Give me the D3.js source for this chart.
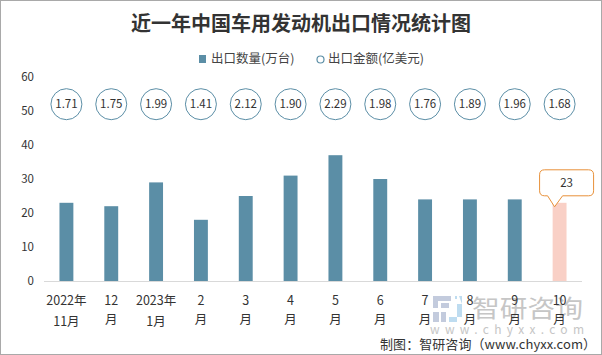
<!DOCTYPE html>
<html><head><meta charset="utf-8">
<script src="https://cdn.jsdelivr.net/npm/d3@7"></script>
<style>html,body{margin:0;padding:0;background:#fff}svg{display:block}text{font-family:"Noto Sans CJK SC","Noto Sans",sans-serif}</style>
</head><body><svg id="c" width="602" height="355"></svg>
<script>
const title = "近一年中国车用发动机出口情况统计图";
const categories = ["2022年|11月","12|月","2023年|1月","2|月","3|月","4|月","5|月","6|月","7|月","8|月","9|月","10|月"];
const quantity = [23,22,29,18,25,31,37,30,24,24,24,23];
const amount = ["1.71","1.75","1.99","1.41","2.12","1.90","2.29","1.98","1.76","1.89","1.96","1.68"];
const bubbleLevel = 52;
const yTicks = [0,10,20,30,40,50,60];
const legendLabels = ["出口数量(万台)","出口金额(亿美元)"];
const source = "制图：智研咨询（www.chyxx.com）";
const wmName = "智研咨询", wmUrl = "www.chyxx.com";
const barColor = "#5b8ea6", hiColor = "#f9d0c6", orange = "#e8913a", txt = "#333";

const svg = d3.select("#c");
svg.append("rect").attr("x",.5).attr("y",.5).attr("width",601).attr("height",354).attr("fill","#fff").attr("stroke","#a9a9a9");

const x = d3.scaleBand().domain(categories).range([44,582]).paddingInner(0.69).paddingOuter(0.345);
const y = d3.scaleLinear().domain([0,60]).range([281,77]);
const cx = d => x(d)+x.bandwidth()/2;

svg.append("text").attr("x",301).attr("y",31).attr("text-anchor","middle").attr("font-size",20).attr("font-weight",700).attr("fill","#333").text(title);

// legend
svg.append("rect").attr("x",199).attr("y",55).attr("width",7).attr("height",8).attr("fill",barColor);
svg.append("text").attr("x",211).attr("y",63).attr("font-size",12.5).attr("fill","#444").text(legendLabels[0]);
svg.append("circle").attr("cx",320.5).attr("cy",59.5).attr("r",3.5).attr("fill","#fff").attr("stroke",barColor).attr("stroke-width",1.2);
svg.append("text").attr("x",328).attr("y",63).attr("font-size",12.5).attr("fill","#444").text(legendLabels[1]);

// y axis
const ya = svg.append("g").attr("transform","translate(34,0)").call(d3.axisLeft(y).tickValues(yTicks).tickSize(0).tickPadding(0));
ya.select(".domain").remove();
ya.selectAll("text").attr("font-size",11.5).attr("fill",txt);

// watermark
const wm = svg.append("g");
wm.append("path").attr("d","M433 296h18v5h-13v7h-5zM433 312h6v10h-6z").attr("fill","#c3cbdd");
wm.append("path").attr("d","M441 303h8v5h-8zM441 312h5v10h-5z").attr("fill","#c3cbdd");
wm.append("path").attr("d","M455 296h2v3h-2zM459 296h3v21h-5v5h-8v-5h8v-13h5z").attr("fill","#bedcf0");
wm.append("text").attr("x",472).attr("y",317).attr("font-size",24).attr("fill","#c6c6c6").attr("textLength",111).attr("lengthAdjust","spacingAndGlyphs").text(wmName);
wm.append("text").attr("x",430).attr("y",334).attr("font-size",12).attr("fill","#c6c6c6").attr("textLength",154).text(wmUrl);

// bars
svg.append("g").selectAll("rect").data(categories).join("rect")
  .attr("x",d=>x(d)).attr("width",x.bandwidth())
  .attr("y",(d,i)=>y(quantity[i])).attr("height",(d,i)=>y(0)-y(quantity[i]))
  .attr("fill",(d,i)=>i===categories.length-1?hiColor:barColor);

// x axis line
svg.append("line").attr("x1",44).attr("x2",582).attr("y1",281.5).attr("y2",281.5).attr("stroke","#d9d9d9").attr("stroke-width",1);

// x labels
const xl = svg.append("g").selectAll("text").data(categories).join("text")
  .attr("text-anchor","middle").attr("font-size",12.5).attr("fill",txt);
xl.each(function(d){
  const p = d.split("|"), t = d3.select(this);
  t.append("tspan").attr("x",cx(d)).attr("y",305).text(p[0]);
  t.append("tspan").attr("x",cx(d)).attr("y",p[0].length>2?326:324).text(p[1]);
});

// bubbles
const b = svg.append("g").selectAll("g").data(categories).join("g")
  .attr("transform",d=>`translate(${cx(d)},${y(bubbleLevel)})`);
b.append("circle").attr("r",15.5).attr("fill","#fff").attr("stroke",barColor).attr("stroke-width",1);
b.append("text").attr("text-anchor","middle").attr("dy","0.35em").attr("font-size",11.5).attr("fill",txt).text((d,i)=>amount[i]);

// callout
const last = categories.length-1, lx = cx(categories[last]), ly = y(quantity[last]);
svg.append("path").attr("fill","#fff").attr("stroke",orange).attr("stroke-width",1)
  .attr("d",`M${lx-12} ${ly-7} L${lx-5} ${ly+4} L${lx+3} ${ly-7} H${lx+29} Q${lx+34} ${ly-7} ${lx+34} ${ly-12} V${ly-28} Q${lx+34} ${ly-33} ${lx+29} ${ly-33} H${lx-15} Q${lx-20} ${ly-33} ${lx-20} ${ly-28} V${ly-12} Q${lx-20} ${ly-7} ${lx-15} ${ly-7} Z`);
svg.append("text").attr("x",lx+7).attr("y",ly-16).attr("text-anchor","middle").attr("font-size",11.5).attr("fill",txt).text(quantity[last]);

// source
svg.append("text").attr("x",380).attr("y",349).attr("font-size",13).attr("fill","#333").attr("textLength",216).text(source);
</script></body></html>
